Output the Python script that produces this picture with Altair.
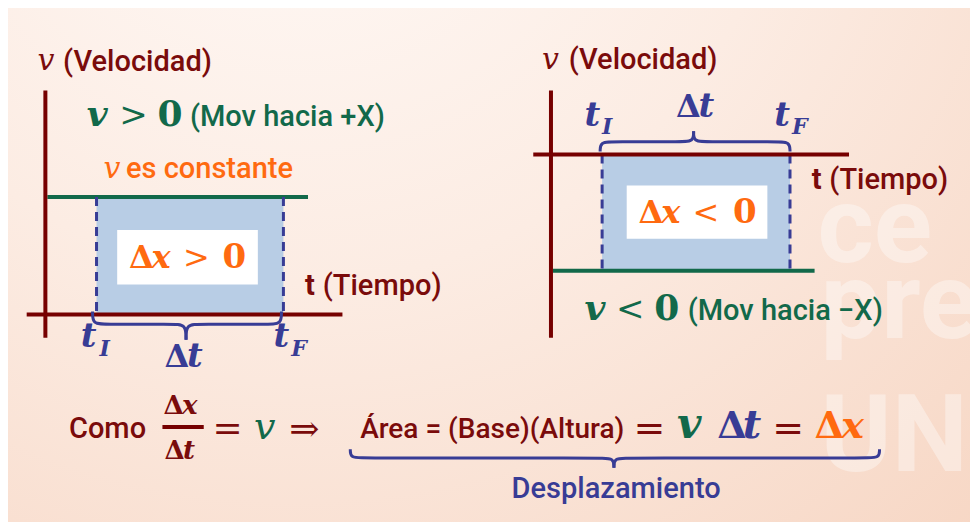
import altair as alt
import pandas as pd

# ---------------- colours ----------------
DR = "#7a0b0b"      # dark red (axes / labels)
GR = "#12694a"      # green
OR = "#ff6a10"      # orange
BL = "#383c95"      # indigo blue
FILL = "#b8cde5"    # area fill
W, H = 978, 530     # diagram coordinate frame

# ---------------- diagram geometry (reference pixels) ----------------
# straight segments: x, y, x2, y2
axis_x  = [38, 19, 552, 534, 157]
axis_y  = [85, 316, 85, 151, 432]
axis_x2 = [38, 340, 552, 855, 199]
axis_y2 = [340, 316, 340, 151, 432]

vel_x  = [40, 554]
vel_y  = [195, 271]
vel_x2 = [305, 820]

dash_x  = [90, 280, 604, 795]
dash_y  = [195, 195, 151, 151]
dash_y2 = [316, 316, 271, 271]

area_x  = [90, 604]
area_x2 = [280, 795]
area_y  = [195, 151]
area_y2 = [316, 271]

box_x  = [111, 629]
box_x2 = [254, 772]
box_y  = [229, 183]
box_y2 = [285, 238]

# braces: left end, right end, tip x, end y, body y, tip y
brace_x0 = [86, 602, 348]
brace_x1 = [278, 795, 886]
brace_xm = [181, 697, 616]
brace_y0 = [313, 148, 455]
brace_yb = [326, 138, 464]
brace_yt = [342, 127, 474]

# ---------------- texts ----------------
txt     = ["v", "(Velocidad)", "v", ">", "0", "(Mov hacia +X)", "v", "es constante",
           "Δ", "x", ">", "0", "t", "(Tiempo)", "t", "I", "Δ", "t", "t", "F",
           "v", "(Velocidad)", "t", "I", "Δ", "t", "t", "F", "t", "(Tiempo)",
           "Δ", "x", "<", "0", "v", "<", "0", "(Mov hacia −X)",
           "Como", "Δ", "x", "Δ", "t", "=", "v", "⇒", "Área = (Base)(Altura)",
           "=", "v", "Δ", "t", "=", "Δ", "x", "Desplazamiento"]
txt_x   = [30, 56, 80, 113, 152, 185, 97, 120,
           123, 146, 178, 218, 302, 320, 74, 93, 159, 182, 270, 288,
           543, 570, 586, 604, 679, 702, 779, 797, 817, 835,
           641, 664, 696, 737, 586, 618, 657, 691,
           62, 158, 177, 159, 178, 208, 250, 286, 358,
           636, 680, 721, 747, 777, 820, 847, 512]
txt_y   = [64, 65, 122, 122, 122, 122, 175, 175,
           268, 268, 268, 268, 296, 296, 350, 359, 370, 370, 350, 359,
           63, 63, 122, 130, 112, 112, 122, 130, 187, 187,
           222, 222, 222, 222, 322, 322, 322, 322,
           443, 419, 419, 465, 465, 445, 444, 446, 443,
           446, 443, 443, 443, 446, 443, 443, 505]
txt_sz  = [30, 29, 36, 34, 36, 29, 30, 29,
           32, 32, 32, 34, 29, 29, 34, 22, 32, 34, 34, 22,
           30, 29, 34, 22, 32, 34, 34, 22, 29, 29,
           32, 32, 32, 34, 36, 34, 36, 29,
           29, 26, 26, 26, 26, 36, 38, 36, 28,
           38, 42, 38, 40, 38, 38, 38, 29]
txt_col = [DR, DR, GR, GR, GR, GR, OR, OR,
           OR, OR, OR, OR, DR, DR, BL, BL, BL, BL, BL, BL,
           DR, DR, BL, BL, BL, BL, BL, BL, DR, DR,
           OR, OR, OR, OR, GR, GR, GR, GR,
           DR, DR, DR, DR, DR, DR, GR, DR, DR,
           DR, GR, BL, BL, DR, OR, OR, BL]
txt_fnt = ["si", "sans", "sbi", "s", "sb", "sans", "si", "sans",
           "sb", "sbi", "s", "sb", "sansb", "sans", "sbi", "sbi", "sb", "sbi", "sbi", "sbi",
           "si", "sans", "sbi", "sbi", "sb", "sbi", "sbi", "sbi", "sansb", "sans",
           "sb", "sbi", "s", "sb", "sbi", "s", "sb", "sans",
           "sans", "sb", "sbi", "sb", "sbi", "s", "si", "s", "sans",
           "s", "sbi", "sb", "sbi", "s", "sb", "sbi", "sans"]

wm_txt = ["ce", "pre", "UN"]
wm_x = [823, 826, 826]
wm_y = [262, 340, 477]

FONTS = {
    "sans":  dict(font="Roboto", fontStyle="normal", fontWeight=500),
    "sansb": dict(font="Roboto", fontStyle="normal", fontWeight="bold"),
    "s":     dict(font="DejaVu Serif", fontStyle="normal", fontWeight="normal"),
    "sb":    dict(font="DejaVu Serif", fontStyle="normal", fontWeight="bold"),
    "si":    dict(font="DejaVu Serif", fontStyle="italic", fontWeight="normal"),
    "sbi":   dict(font="DejaVu Serif", fontStyle="italic", fontWeight="bold"),
}

xs = alt.Scale(domain=[0, W], nice=False, zero=False)
ys = alt.Scale(domain=[0, H], nice=False, zero=False, reverse=True)


def XY():
    return dict(x=alt.X("x:Q", scale=xs, axis=None), y=alt.Y("y:Q", scale=ys, axis=None))


def XY2():
    return dict(x2=alt.X2("x2:Q"), y2=alt.Y2("y2:Q"))


# background
bg_df = pd.DataFrame({"x": [0], "x2": [W], "y": [0], "y2": [H]})
bg = alt.Chart(bg_df).mark_rect(
    fill=alt.RadialGradient(
        gradient="radial",
        stops=[alt.GradientStop(offset=0, color="#fffbf9"),
               alt.GradientStop(offset=0.45, color="#fcece3"),
               alt.GradientStop(offset=1, color="#f6d3bf")],
        x1=0.3, y1=0.0, r1=0.0, x2=0.3, y2=0.0, r2=1.15),
    strokeWidth=0,
).encode(**XY(), **XY2())

wm = alt.Chart(pd.DataFrame({"t": wm_txt, "x": wm_x, "y": wm_y})).mark_text(
    font="Roboto", fontWeight="bold", fontSize=108, color="white", opacity=0.38,
    align="left", baseline="alphabetic").encode(**XY(), text="t:N")

area = alt.Chart(pd.DataFrame({"x": area_x, "x2": area_x2, "y": area_y, "y2": area_y2})).mark_rect(
    color=FILL).encode(**XY(), **XY2())
box = alt.Chart(pd.DataFrame({"x": box_x, "x2": box_x2, "y": box_y, "y2": box_y2})).mark_rect(
    color="white").encode(**XY(), **XY2())

vel = alt.Chart(pd.DataFrame({"x": vel_x, "x2": vel_x2, "y": vel_y, "y2": vel_y})).mark_rule(
    color=GR, strokeWidth=4).encode(**XY(), **XY2())
dash = alt.Chart(pd.DataFrame({"x": dash_x, "x2": dash_x, "y": dash_y, "y2": dash_y2})).mark_rule(
    color=BL, strokeWidth=3, strokeDash=[9, 6]).encode(**XY(), **XY2())
axes = alt.Chart(pd.DataFrame({"x": axis_x, "x2": axis_x2, "y": axis_y, "y2": axis_y2})).mark_rule(
    color="#760000", strokeWidth=4).encode(**XY(), **XY2())

# brace table
rows = []
for b in range(len(brace_x0)):
    x0, x1, xm = brace_x0[b], brace_x1[b], brace_xm[b]
    y0, yb, yt = brace_y0[b], brace_yb[b], brace_yt[b]
    for side, xe, s in (("L", x0, 1), ("R", x1, -1)):
        pts = [(xe, y0), (xe, yb), (xe + s * 14, yb), (xm - s * 14, yb), (xm, yb), (xm, yt)]
        for i, (px, py) in enumerate(pts):
            rows.append({"seg": f"{b}{side}", "i": i, "x": px, "y": py})
braces = alt.Chart(pd.DataFrame(rows)).mark_line(
    interpolate="basis", color=BL, strokeWidth=3).encode(
    **XY(), detail="seg:N", order="i:Q")

tdf = pd.DataFrame({"t": txt, "x": txt_x, "y": txt_y, "size": txt_sz, "color": txt_col, "f": txt_fnt})
text_layers = []
for key, st in FONTS.items():
    sub = tdf[tdf["f"] == key]
    if len(sub) == 0:
        continue
    text_layers.append(
        alt.Chart(sub).mark_text(align="left", baseline="alphabetic", **st).encode(
            **XY(), text="t:N",
            size=alt.Size("size:Q", scale=None),
            color=alt.Color("color:N", scale=None))
    )

chart = alt.layer(bg, wm, area, box, vel, dash, axes, braces, *text_layers).properties(
    width=962, height=514, padding=0, autosize="none"
).configure_view(stroke=None)

chart.save("out.html", embed_options={"renderer": "svg", "actions": False})
